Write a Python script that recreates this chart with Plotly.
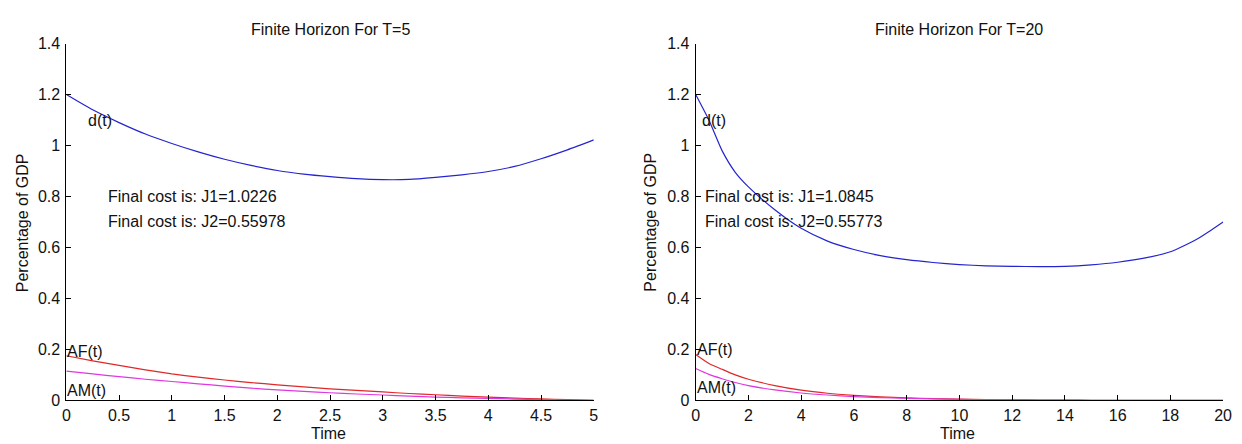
import plotly.graph_objects as go

# ---------------- data ----------------
t5 = [0, 0.25, 0.5, 0.75, 1.0, 1.25, 1.5, 1.75, 2.0, 2.25, 2.5, 2.75, 3.0,
      3.25, 3.5, 3.75, 4.0, 4.25, 4.5, 4.75, 5.0]
d5 = [1.20, 1.14, 1.09, 1.045, 1.008, 0.975, 0.946, 0.922, 0.902, 0.888, 0.878,
      0.870, 0.866, 0.867, 0.875, 0.885, 0.898, 0.918, 0.948, 0.983, 1.022]
af5 = [0.175, 0.155, 0.137, 0.120, 0.104, 0.091, 0.080, 0.070, 0.061, 0.053, 0.045,
       0.039, 0.033, 0.027, 0.022, 0.017, 0.013, 0.009, 0.006, 0.003, 0.0]
am5 = [0.115, 0.104, 0.093, 0.083, 0.074, 0.065, 0.056, 0.048, 0.041, 0.035, 0.030,
       0.025, 0.021, 0.017, 0.013, 0.010, 0.008, 0.005, 0.003, 0.001, 0.0]

t20 = [0, 0.5, 1, 1.5, 2, 3, 4, 5, 6, 7, 8, 9, 10, 11, 12, 13, 14, 15, 16, 17,
       18, 19, 19.5, 20]
d20 = [1.20, 1.10, 0.98, 0.895, 0.838, 0.748, 0.675, 0.625, 0.592, 0.568, 0.552,
       0.541, 0.533, 0.528, 0.526, 0.525, 0.526, 0.532, 0.542, 0.558, 0.583,
       0.632, 0.665, 0.70]
af20 = [0.18, 0.145, 0.122, 0.100, 0.083, 0.058, 0.040, 0.028, 0.020, 0.014, 0.010,
        0.007, 0.005, 0.003, 0.002, 0.0015, 0.001, 0.0005, 0.0, 0.0, 0.0, 0.0, 0.0, 0.0]
am20 = [0.125, 0.102, 0.085, 0.070, 0.058, 0.041, 0.029, 0.021, 0.015, 0.011, 0.008,
        0.006, 0.004, 0.003, 0.002, 0.0015, 0.001, 0.0005, 0.0, 0.0, 0.0, 0.0, 0.0, 0.0]

titles = ["Finite Horizon For T=5", "Finite Horizon For T=20"]
cost_texts = [["Final cost is: J1=1.0226", "Final cost is: J2=0.55978"],
              ["Final cost is: J1=1.0845", "Final cost is: J2=0.55773"]]
x_ticks = [[0, 0.5, 1, 1.5, 2, 2.5, 3, 3.5, 4, 4.5, 5],
           [0, 2, 4, 6, 8, 10, 12, 14, 16, 18, 20]]
y_ticks = [0, 0.2, 0.4, 0.6, 0.8, 1, 1.2, 1.4]
x_ranges = [[0, 5], [0, 20]]

# ---------------- styling ----------------
W, H = 1242, 444
FONT = "Liberation Sans, Arial, sans-serif"
FS = 16
TXT = "#111111"
BLUE = "#2525cf"
RED = "#e02828"
MAG = "#e038e0"

def fx(px):
    return px / W

def fy(py):
    return (H - py) / H

fig = go.Figure()
series = [(t5, d5, af5, am5), (t20, d20, af20, am20)]
for i, (t, d, af, am) in enumerate(series):
    xa = "x" if i == 0 else "x2"
    ya = "y" if i == 0 else "y2"
    for yy, col in [(d, BLUE), (af, RED), (am, MAG)]:
        fig.add_trace(go.Scatter(x=t, y=yy, mode="lines",
                                 line=dict(color=col, width=1.2, shape="spline", smoothing=0.6),
                                 xaxis=xa, yaxis=ya, showlegend=False, hoverinfo="skip"))

px_left = [(63, 596), (699, 1232)]
py_top, py_bot = 37, 408
ydom = [fy(py_bot), fy(py_top)]

axis_common = dict(
    showline=True, linecolor="black", linewidth=1,
    ticks="inside", ticklen=5, tickcolor="black", tickwidth=1,
    showgrid=False, zeroline=False, mirror=False,
    tickfont=dict(family=FONT, size=FS, color=TXT),
)

for i in range(2):
    sx = "" if i == 0 else "2"
    fig.update_layout(**{
        "xaxis" + sx: dict(axis_common, domain=[fx(px_left[i][0]), fx(px_left[i][1])],
                           range=x_ranges[i], tickvals=x_ticks[i],
                           anchor="y" + sx, ticklabelstandoff=0),
        "yaxis" + sx: dict(axis_common, domain=ydom, range=[0, 1.4], tickvals=y_ticks,
                           anchor="x" + sx, ticklabelstandoff=2),
    })

ann = []
label_pos = [
    dict(d=(0.2, 1.1), c1=(0.39, 0.8), c2=(0.39, 0.7), af=(0.0, 0.19), am=(0.0, 0.04)),
    dict(d=(0.2, 1.1), c1=(0.33, 0.8), c2=(0.33, 0.7), af=(0.0, 0.2), am=(0.0, 0.05)),
]
for i in range(2):
    xr = "x" if i == 0 else "x2"
    yr = "y" if i == 0 else "y2"
    lp = label_pos[i]
    for key, txt in [("d", "d(t)"), ("c1", cost_texts[i][0]), ("c2", cost_texts[i][1]),
                     ("af", "AF(t)"), ("am", "AM(t)")]:
        x, y = lp[key]
        ann.append(dict(x=x, y=y, xref=xr, yref=yr, text=txt, showarrow=False,
                        xanchor="left", yanchor="middle", borderpad=0,
                        font=dict(family=FONT, size=FS, color=TXT)))
    a, b = px_left[i]
    cx = (a + b) / 2
    ann.append(dict(x=fx(cx), y=fy(22), xref="paper", yref="paper", text=titles[i],
                    showarrow=False, xanchor="center", yanchor="middle",
                    font=dict(family=FONT, size=FS, color=TXT)))
    ann.append(dict(x=fx(cx - 2), y=fy(442), xref="paper", yref="paper", text="Time",
                    showarrow=False, xanchor="center", yanchor="middle", borderpad=0,
                    font=dict(family=FONT, size=FS, color=TXT)))
    yx = 19 if i == 0 else 653
    ann.append(dict(x=fx(yx), y=fy(223), xref="paper", yref="paper",
                    text="Percentage of GDP", textangle=-90,
                    showarrow=False, xanchor="center", yanchor="middle",
                    font=dict(family=FONT, size=FS, color=TXT)))

fig.update_layout(
    width=W, height=H, margin=dict(l=0, r=0, t=0, b=0),
    paper_bgcolor="white", plot_bgcolor="white",
    annotations=ann, showlegend=False,
)

fig.write_html("out.html")
